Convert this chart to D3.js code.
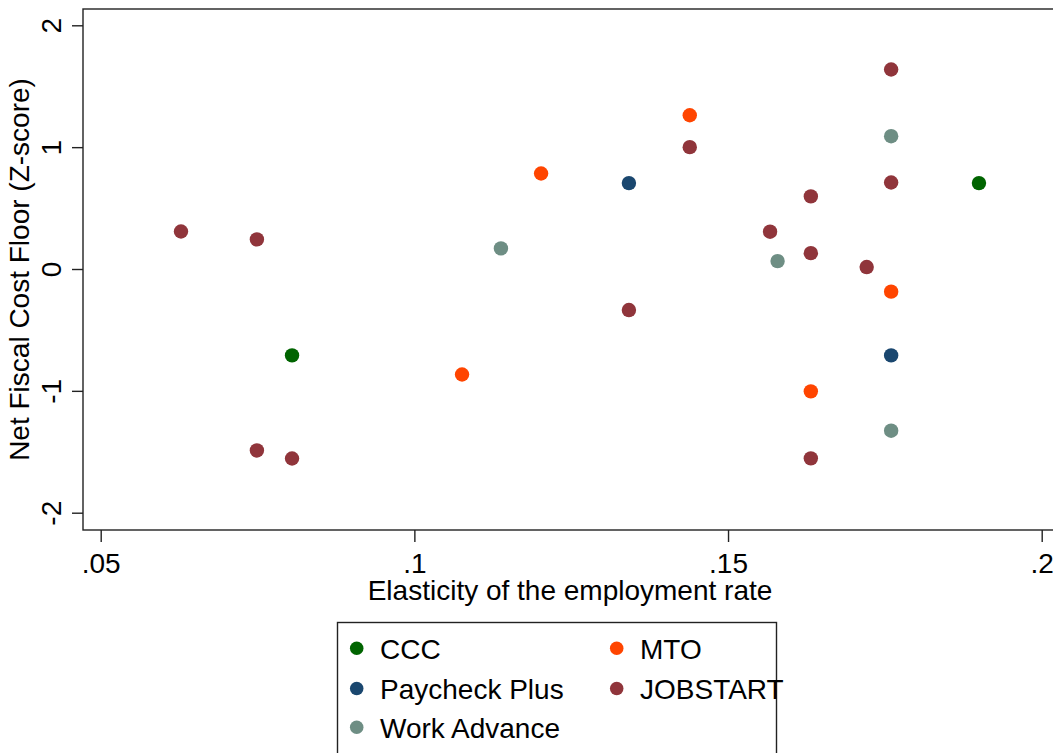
<!DOCTYPE html>
<html>
<head>
<meta charset="utf-8">
<script src="https://cdn.jsdelivr.net/npm/d3@7"></script>
<style>
  html, body { margin: 0; padding: 0; background: #fff; }
  svg { display: block; }
  text { font-family: "Liberation Sans", Arial, sans-serif; fill: #000; }
</style>
</head>
<body>
<svg id="chart" width="1053" height="753"></svg>
<script>
// ---- data ----
const programs = ["CCC", "Paycheck Plus", "Work Advance", "MTO", "JOBSTART"];
const programColors = ["#006400", "#1a476f", "#6e8e84", "#ff4500", "#90353b"];

const cccX = [0.0805, 0.1900];
const cccY = [-0.709, 0.705];

const paycheckX = [0.1342, 0.1760];
const paycheckY = [0.705, -0.709];

const workAdvX = [0.1138, 0.1579, 0.1760, 0.1760];
const workAdvY = [0.169, 0.065, 1.090, -1.327];

const mtoX = [0.1076, 0.1202, 0.1439, 0.1632, 0.1760];
const mtoY = [-0.866, 0.784, 1.262, -1.004, -0.186];

const jobstartX = [0.0628, 0.0749, 0.0749, 0.0805, 0.1342, 0.1439, 0.1567, 0.1632, 0.1632, 0.1632, 0.1721, 0.1760, 0.1760];
const jobstartY = [0.308, 0.243, -1.489, -1.555, -0.337, 1.000, 0.306, 0.596, 0.130, -1.554, 0.016, 0.710, 1.637];

const xTicks = [0.05, 0.10, 0.15, 0.20];
const xTickLabels = [".05", ".1", ".15", ".2"];
const yTicks = [-2, -1, 0, 1, 2];
const yTickLabels = ["-2", "-1", "0", "1", "2"];

const xTitle = "Elasticity of the employment rate";
const yTitle = "Net Fiscal Cost Floor (Z-score)";

// ---- layout ----
const svg = d3.select("#chart");
const plot = { left: 83, top: 9, right: 1057, bottom: 530 };
const axisColor = "#222";
const fontSize = 28;

const x = d3.scaleLinear().domain([0.05, 0.20]).range([100.7, 1041.7]);
const y = d3.scaleLinear().domain([-2, 2]).range([512.7, 25.3]);

// plot frame
svg.append("rect")
  .attr("x", plot.left).attr("y", plot.top)
  .attr("width", plot.right - plot.left).attr("height", plot.bottom - plot.top)
  .attr("fill", "none").attr("stroke", axisColor).attr("stroke-width", 1.4);

// x axis
const xAxis = d3.axisBottom(x)
  .tickValues(xTicks)
  .tickFormat((d, i) => xTickLabels[i])
  .tickSizeInner(12).tickSizeOuter(0).tickPadding(11);
const gx = svg.append("g").attr("transform", `translate(0,${plot.bottom})`).call(xAxis);
gx.select(".domain").remove();
gx.selectAll(".tick line").attr("stroke", axisColor).attr("stroke-width", 1.4);
gx.selectAll(".tick text").attr("font-size", fontSize)
  .attr("font-family", '"Liberation Sans", Arial, sans-serif').attr("fill", "#000");

// y axis
const yAxis = d3.axisLeft(y)
  .tickValues(yTicks)
  .tickFormat((d, i) => yTickLabels[i])
  .tickSizeInner(11).tickSizeOuter(0);
const gy = svg.append("g").attr("transform", `translate(${plot.left},0)`).call(yAxis);
gy.select(".domain").remove();
gy.selectAll(".tick line").attr("stroke", axisColor).attr("stroke-width", 1.4);
gy.selectAll(".tick text")
  .attr("font-size", fontSize)
  .attr("font-family", '"Liberation Sans", Arial, sans-serif').attr("fill", "#000")
  .attr("x", 0).attr("y", -22.3).attr("dy", null)
  .attr("text-anchor", "middle")
  .attr("transform", "rotate(-90)");

// axis titles
svg.append("text")
  .attr("x", (plot.left + plot.right) / 2).attr("y", 600)
  .attr("text-anchor", "middle").attr("font-size", fontSize)
  .text(xTitle);

svg.append("text")
  .attr("transform", `translate(28.5,${(plot.top + plot.bottom) / 2}) rotate(-90)`)
  .attr("text-anchor", "middle").attr("font-size", fontSize)
  .text(yTitle);

// points
const seriesX = [cccX, paycheckX, workAdvX, mtoX, jobstartX];
const seriesY = [cccY, paycheckY, workAdvY, mtoY, jobstartY];
const points = [];
programs.forEach((p, i) => {
  seriesX[i].forEach((vx, j) => points.push({ program: p, color: programColors[i], x: vx, y: seriesY[i][j] }));
});
svg.append("g").selectAll("circle").data(points).join("circle")
  .attr("cx", d => x(d.x)).attr("cy", d => y(d.y))
  .attr("r", 7.2).attr("fill", d => d.color);

// legend
const legend = svg.append("g");
legend.append("rect")
  .attr("x", 337.5).attr("y", 622.5).attr("width", 439).attr("height", 150)
  .attr("fill", "#fff").attr("stroke", axisColor).attr("stroke-width", 1.4);
const legendOrder = [0, 3, 1, 4, 2]; // row-major, two columns
const colMarker = [356.7, 616.7];
const colText = [380, 640];
const rowMarkerY = [648.3, 688.5, 727.3];
const rowTextY = [659, 698.5, 738];
legendOrder.forEach((pi, k) => {
  const col = k % 2, row = Math.floor(k / 2);
  legend.append("circle")
    .attr("cx", colMarker[col]).attr("cy", rowMarkerY[row])
    .attr("r", 6.8).attr("fill", programColors[pi]);
  legend.append("text")
    .attr("x", colText[col]).attr("y", rowTextY[row])
    .attr("font-size", fontSize)
    .text(programs[pi]);
});
</script>
</body>
</html>
